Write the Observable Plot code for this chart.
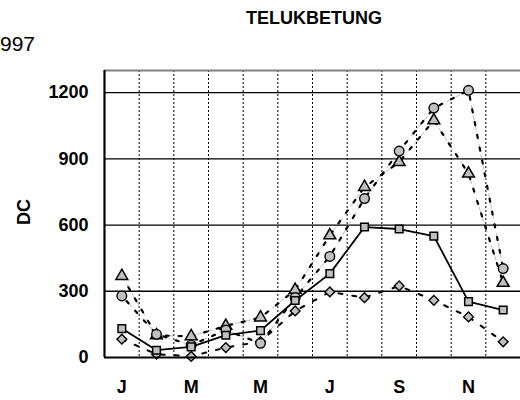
<!DOCTYPE html>
<html>
<head>
<meta charset="utf-8">
<script src="https://cdn.jsdelivr.net/npm/d3@7"></script>
<script src="https://cdn.jsdelivr.net/npm/@observablehq/plot@0.6"></script>
<style>
  html, body { margin: 0; padding: 0; background: #fff; overflow: hidden; }
  #chart { width: 520px; height: 400px; }
</style>
</head>
<body>
<div id="chart"></div>
<script>
// ---- data ----
const title = "TELUKBETUNG";
const yearLabel = "997";
const yLabel = "DC";
const months = ["J", "F", "M", "A", "M", "J", "J", "A", "S", "O", "N", "D"];
const xTickMonths = [1, 3, 5, 7, 9, 11];
const yTicks = [0, 300, 600, 900, 1200];
const gridValues = [300, 600, 900, 1200];
const yMax = 1300;

const squareSeries   = [131, 33, 48, 101, 122, 258, 380, 591, 582, 550, 253, 215];
const diamondSeries  = [83, 15, 5, 45, 72, 211, 297, 271, 324, 259, 184, 71];
const circleSeries   = [279, 105, 56, 124, 64, 271, 458, 720, 935, 1130, 1210, 403];
const triangleSeries = [369, 100, 96, 143, 181, 306, 553, 772, 885, 1074, 833, 338];

// ---- build rows ----
const toRows = (vals) => vals.map((v, i) => ({ m: i + 1, v }));
const sq = toRows(squareSeries);
const di = toRows(diamondSeries);
const ci = toRows(circleSeries);
const tr = toRows(triangleSeries);
const boundaries = months.slice(1).map((_, i) => i + 1.5);

const FONT = "'Liberation Sans', Arial, Helvetica, sans-serif";
const markerFill = "#c0c0c0";

const plot = Plot.plot({
  width: 520,
  height: 400,
  marginLeft: 104,
  marginRight: 0,
  marginTop: 70,
  marginBottom: 43,
  style: { fontFamily: FONT, background: "#fff" },
  x: { domain: [0.5, months.length + 0.5] },
  y: { domain: [0, yMax] },
  marks: [
    // grid
    Plot.ruleY(gridValues, { stroke: "black", strokeWidth: 1.3 }),
    Plot.ruleX(boundaries, { stroke: "black", strokeWidth: 1, strokeDasharray: "2,2" }),
    Plot.ruleY([yMax], { stroke: "#808080", strokeWidth: 2 }),
    // lines
    Plot.line(di, { x: "m", y: "v", stroke: "black", strokeWidth: 2, strokeDasharray: "4,10" }),
    Plot.line(tr, { x: "m", y: "v", stroke: "#a0a0a0", strokeWidth: 0.7, strokeDasharray: "5,5" }),
    Plot.line(tr, { x: "m", y: "v", stroke: "black", strokeWidth: 2.2, strokeDasharray: "3,10" }),
    Plot.line(ci, { x: "m", y: "v", stroke: "#a0a0a0", strokeWidth: 0.7, strokeDasharray: "5,5" }),
    Plot.line(ci, { x: "m", y: "v", stroke: "black", strokeWidth: 2.2, strokeDasharray: "3,10", strokeDashoffset: 6 }),
    Plot.line(sq, { x: "m", y: "v", stroke: "black", strokeWidth: 1.8 }),
    // markers
    Plot.dot(di, { x: "m", y: "v", symbol: "diamond2", r: 4.4, fill: markerFill, stroke: "black", strokeWidth: 1.4 }),
    Plot.dot(tr, { x: "m", y: "v", symbol: "triangle", r: 4.4, fill: markerFill, stroke: "black", strokeWidth: 1.5 }),
    Plot.dot(ci, { x: "m", y: "v", symbol: "circle", r: 4.8, fill: markerFill, stroke: "black", strokeWidth: 1.4 }),
    Plot.dot(sq, { x: "m", y: "v", symbol: "square", r: 4.3, fill: markerFill, stroke: "black", strokeWidth: 1.5 }),
    // frame axes lines
    Plot.ruleY([0], { stroke: "black", strokeWidth: 2.2 }),
    Plot.ruleX([0.5], { stroke: "black", strokeWidth: 2.2 }),
    // axes
    Plot.axisY({ ticks: yTicks, tickFormat: (d) => String(d), tickSize: 0, tickPadding: 16,
      fontSize: 18, fontWeight: "bold", fill: "black", label: null }),
    Plot.axisX({ ticks: xTickMonths, tickFormat: (d) => months[d - 1], tickSize: 0, tickPadding: 23,
      fontSize: 18, fontWeight: "bold", fill: "black", label: null })
  ]
});

const svg = d3.select(plot);
svg.append("text")
  .attr("x", 314).attr("y", 24)
  .attr("text-anchor", "middle")
  .style("font-family", FONT).style("font-size", "18px").style("font-weight", "bold")
  .attr("fill", "black")
  .text(title);
svg.append("text")
  .attr("x", 0).attr("y", 51)
  .attr("text-anchor", "start")
  .style("font-family", FONT).style("font-size", "21px")
  .attr("fill", "black")
  .text(yearLabel);
svg.append("text")
  .attr("transform", "translate(30,212) rotate(-90)")
  .attr("text-anchor", "middle")
  .style("font-family", FONT).style("font-size", "18px").style("font-weight", "bold")
  .attr("fill", "black")
  .text(yLabel);

document.getElementById("chart").appendChild(plot);
</script>
</body>
</html>
